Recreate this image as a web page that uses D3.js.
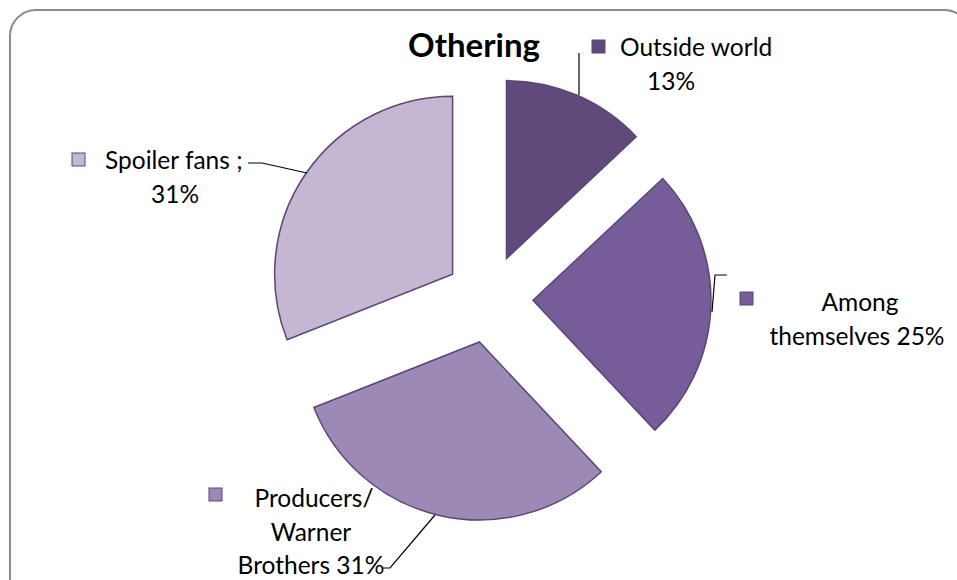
<!DOCTYPE html>
<html>
<head>
<meta charset="utf-8">
<script src="https://cdnjs.cloudflare.com/ajax/libs/d3/7.8.5/d3.min.js"></script>
<style>
  body { margin: 0; background: #fff; }
  text { font-family: Lato, "Open Sans", sans-serif; fill: #000; }
</style>
</head>
<body>
<div id="chart"></div>
<script>
// chart data
var categories = ["Outside world", "Among themselves", "Producers/ Warner Brothers", "Spoiler fans"];
var values = [13, 25, 31, 31];
var colors = ["#604a7b", "#765c98", "#9c89b6", "#c3b7d1"];

// label text lines per slice
var labelLines = [
  ["Outside world", "13%"],
  ["Among", "themselves 25%"],
  ["Producers/", "Warner", "Brothers 31%"],
  ["Spoiler fans ;", "31%"]
];

var width = 957, height = 580;

var svg = d3.select("#chart")
  .append("svg")
  .attr("width", width)
  .attr("height", height);

// rounded frame, runs off the right and bottom
svg.append("rect")
  .attr("x", 10).attr("y", 10)
  .attr("width", 960).attr("height", 595)
  .attr("rx", 26).attr("ry", 26)
  .attr("fill", "none")
  .attr("stroke", "#8a8a8a")
  .attr("stroke-width", 2);

svg.append("text")
  .attr("x", 474).attr("y", 57)
  .attr("text-anchor", "middle")
  .style("font-size", "33px")
  .style("font-weight", "bold")
  .text("Othering");

var cx = 489, cy = 299, radius = 178, explode = 44;

var pie = d3.pie().sort(null).value(function(d) { return d; });
var arc = d3.arc().innerRadius(0).outerRadius(radius);
var arcs = pie(values);

var g = svg.append("g").attr("transform", "translate(" + cx + "," + cy + ")");

g.selectAll(".slice")
  .data(arcs)
  .enter().append("path")
  .attr("class", "slice")
  .attr("d", arc)
  .attr("fill", function(d, i) { return colors[i]; })
  .attr("stroke", "#5b4678")
  .attr("stroke-width", 1.5)
  .attr("transform", function(d) {
    var a = (d.startAngle + d.endAngle) / 2;
    return "translate(" + (Math.sin(a) * explode) + "," + (-Math.cos(a) * explode) + ")";
  });

// label layout: legend square, per-line x / anchor, first baseline, leader line
var labelPos = [
  {sq: [592, 40], xs: [620, 671], anchors: ["start", "middle"], ty: 56},
  {sq: [740, 292], xs: [860, 857], anchors: ["middle", "middle"], ty: 311},
  {sq: [209, 488], xs: [314, 311, 311], anchors: ["middle", "middle", "middle"], ty: 507},
  {sq: [72, 153], xs: [105, 175], anchors: ["start", "middle"], ty: 169}
];
var leaders = [
  [[579, 53], [579, 95]],
  [[727, 275], [715, 275], [712, 312]],
  [[382, 568], [390, 568], [435, 515]],
  [[248, 163], [262, 163], [307, 173]]
];

var lineHeight = 33.5;

labelPos.forEach(function(p, i) {
  svg.append("rect")
    .attr("x", p.sq[0]).attr("y", p.sq[1])
    .attr("width", 13).attr("height", 13)
    .attr("fill", colors[i])
    .attr("stroke", "#5b4678")
    .attr("stroke-width", 1);

  var t = svg.append("text")
    .style("font-size", "24.5px");
  labelLines[i].forEach(function(line, k) {
    t.append("tspan")
      .attr("x", p.xs[k])
      .attr("y", p.ty + k * lineHeight)
      .attr("text-anchor", p.anchors[k])
      .text(line);
  });

  svg.append("path")
    .attr("d", d3.line()(leaders[i]))
    .attr("fill", "none")
    .attr("stroke", "#000")
    .attr("stroke-width", 1.2);
});
</script>
</body>
</html>
